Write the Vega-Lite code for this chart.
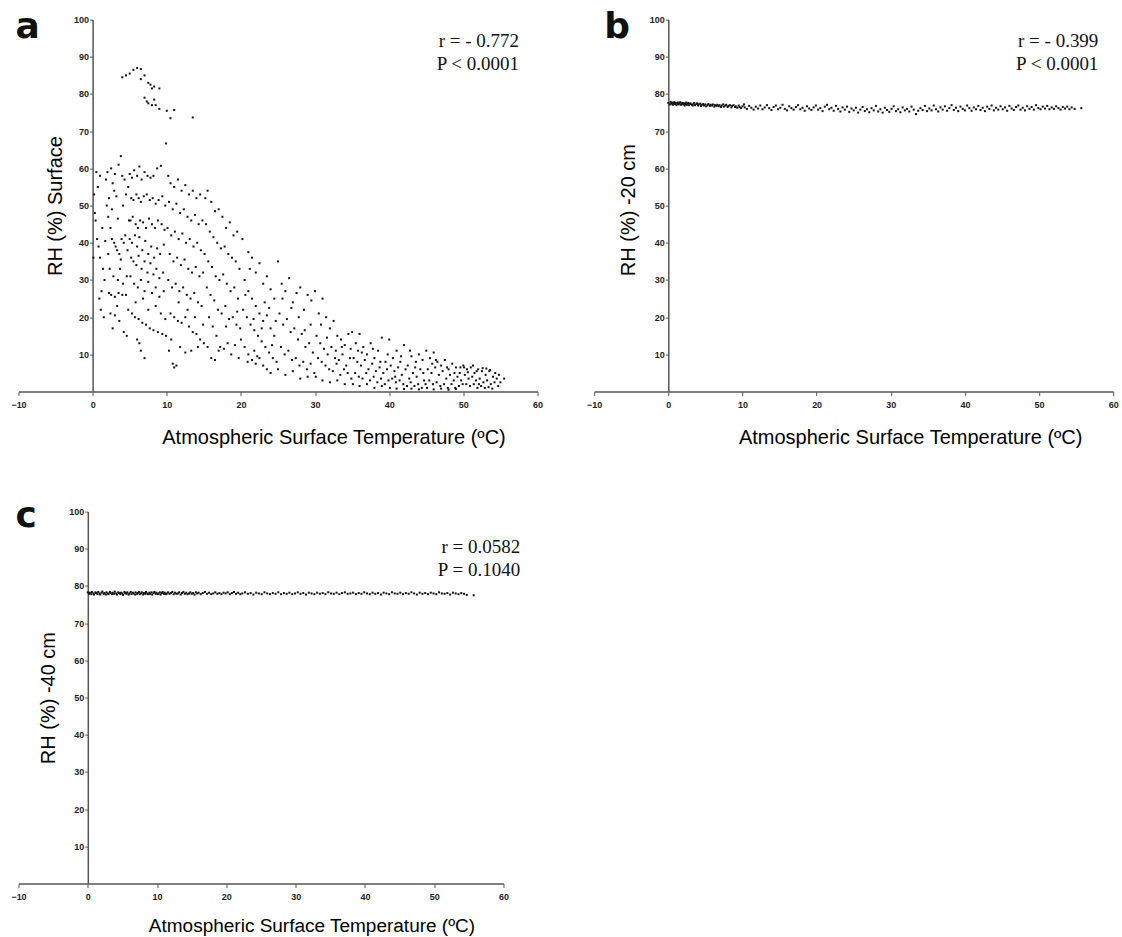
{
"$schema": "https://vega.github.io/schema/vega-lite/v6.json",
"background": "white",
"padding": {"left": 10.5, "top": 8.6, "right": 5, "bottom": 5},
"config": {"view": {"stroke": null}, "axis": {"grid": false}, "font": "Liberation Sans"},
"datasets": {
"a": [
{"x":4.5,"y":85},{"x":5,"y":85.5},{"x":5.5,"y":86.5},{"x":6,"y":87},{"x":6.5,"y":86.7},{"x":7,"y":85},{"x":7.5,"y":83},{"x":7.8,"y":82.5},{"x":8,"y":81.5},{"x":8.3,"y":82},{"x":9,"y":81.5},{"x":7,"y":79},{"x":7.3,"y":78},{"x":7.5,"y":77.5},{"x":8,"y":77},{"x":8.3,"y":78.5},{"x":8.5,"y":77},{"x":9,"y":76},{"x":10,"y":75.5},{"x":11,"y":75.7},{"x":13.5,"y":73.7},{"x":10.5,"y":73.5},{"x":6.5,"y":84},{"x":4,"y":84.5},{"x":9.9,"y":66.7},
{"x":0.2,"y":53},{"x":0.3,"y":48},{"x":0.5,"y":59},{"x":0.6,"y":41},{"x":0.8,"y":39},{"x":1,"y":58},{"x":1,"y":36},{"x":1.2,"y":27},{"x":1.5,"y":20},{"x":1.6,"y":30},{"x":0.4,"y":46},{"x":1.8,"y":57},{"x":1.9,"y":50},{"x":0.9,"y":25},{"x":1.3,"y":44},{"x":1.7,"y":40.5},{"x":0.1,"y":36},{"x":1.1,"y":22},{"x":0.7,"y":55},{"x":1.4,"y":33},
{"x":2,"y":59},{"x":2.2,"y":52},{"x":2.5,"y":60},{"x":2.7,"y":56},{"x":3,"y":58.5},{"x":3.2,"y":52.5},{"x":3.5,"y":61},{"x":3.8,"y":63.3},{"x":4,"y":58},{"x":4.3,"y":57},{"x":4.5,"y":53},{"x":2.1,"y":47},{"x":2.4,"y":44},{"x":2.6,"y":41},{"x":2.9,"y":40},{"x":3.1,"y":39},{"x":3.3,"y":38},{"x":3.6,"y":37},{"x":3.9,"y":41},{"x":4.2,"y":40},{"x":4.4,"y":42},{"x":4.7,"y":38},{"x":2.3,"y":33},{"x":2.8,"y":31},{"x":3.4,"y":30},{"x":3.7,"y":33},{"x":4.1,"y":29},{"x":4.6,"y":31},{"x":2.2,"y":26.5},{"x":2.5,"y":26},{"x":3,"y":25.5},{"x":3.5,"y":26.5},{"x":4,"y":26},{"x":4.5,"y":26},{"x":2.4,"y":21},{"x":3,"y":20.5},{"x":3.6,"y":19},{"x":4.2,"y":16},{"x":4.6,"y":15},{"x":2.7,"y":17},{"x":3.3,"y":23},{"x":4.8,"y":22},{"x":2.1,"y":37},{"x":3.8,"y":35.5},{"x":4.9,"y":46},{"x":2.6,"y":49},{"x":3.4,"y":46.5},{"x":4.1,"y":50},{"x":4.8,"y":55},{"x":2.9,"y":54},
{"x":5,"y":58.5},{"x":5.3,"y":57.5},{"x":5.6,"y":59.5},{"x":6,"y":58},{"x":6.3,"y":60.5},{"x":6.6,"y":57},{"x":7,"y":59},{"x":7.4,"y":58},{"x":7.8,"y":57.5},{"x":8.2,"y":58},{"x":8.7,"y":60},{"x":9.2,"y":60.7},{"x":5.2,"y":52},{"x":5.5,"y":51.5},{"x":5.9,"y":53},{"x":6.2,"y":52},{"x":6.5,"y":51},{"x":6.9,"y":52.5},{"x":7.3,"y":53},{"x":7.7,"y":51.5},{"x":8.1,"y":52},{"x":8.5,"y":50.5},{"x":8.9,"y":51.5},{"x":9.4,"y":52.5},{"x":9.8,"y":50},{"x":5.1,"y":46},{"x":5.4,"y":47},{"x":5.8,"y":45},{"x":6.1,"y":44},{"x":6.4,"y":46},{"x":6.8,"y":45.5},{"x":7.2,"y":44},{"x":7.6,"y":46.5},{"x":8,"y":45},{"x":8.4,"y":44},{"x":8.8,"y":46},{"x":9.3,"y":45},{"x":9.7,"y":43.5},{"x":5,"y":41},{"x":5.3,"y":40},{"x":5.7,"y":42},{"x":6,"y":39},{"x":6.3,"y":41.5},{"x":6.7,"y":38},{"x":7.1,"y":40.5},{"x":7.5,"y":37},{"x":7.9,"y":39},{"x":8.3,"y":36},{"x":8.7,"y":38.5},{"x":9.1,"y":37},{"x":9.6,"y":39.5},{"x":5.2,"y":36},{"x":5.5,"y":35},{"x":5.9,"y":34},{"x":6.2,"y":36.5},{"x":6.6,"y":33},{"x":7,"y":35},{"x":7.4,"y":32},{"x":7.8,"y":34.5},{"x":8.2,"y":31.5},{"x":8.6,"y":33},{"x":9,"y":30.5},{"x":9.5,"y":32},{"x":5.1,"y":31},{"x":5.6,"y":29},{"x":6.1,"y":28},{"x":6.5,"y":30},{"x":7,"y":27},{"x":7.5,"y":29.5},{"x":8,"y":26.5},{"x":8.5,"y":28},{"x":9,"y":25.5},{"x":9.6,"y":27},{"x":5.3,"y":21},{"x":5.7,"y":20},{"x":6.2,"y":19.5},{"x":6.7,"y":18.5},{"x":7.2,"y":18},{"x":7.7,"y":17},{"x":8.2,"y":16.5},{"x":8.8,"y":16},{"x":9.4,"y":15.5},{"x":9.9,"y":15},{"x":6,"y":14},{"x":6.5,"y":11},{"x":7,"y":9},{"x":6.3,"y":13},{"x":7.5,"y":22},{"x":8.5,"y":23},{"x":9.2,"y":21},{"x":5.8,"y":24},{"x":6.8,"y":25},{"x":9.8,"y":19.5},
{"x":10.2,"y":58},{"x":10.5,"y":56},{"x":11,"y":55},{"x":11.5,"y":57},{"x":12,"y":54},{"x":12.5,"y":55.5},{"x":13,"y":53},{"x":13.5,"y":54},{"x":14,"y":52},{"x":14.5,"y":53},{"x":10.3,"y":51},{"x":10.8,"y":49},{"x":11.3,"y":50.5},{"x":11.8,"y":48},{"x":12.3,"y":49},{"x":12.8,"y":47},{"x":13.3,"y":46},{"x":13.8,"y":47.5},{"x":14.3,"y":45},{"x":14.8,"y":46},{"x":10.1,"y":44},{"x":10.6,"y":42},{"x":11.1,"y":43},{"x":11.6,"y":41},{"x":12.1,"y":42.5},{"x":12.6,"y":40},{"x":13.1,"y":41},{"x":13.6,"y":39},{"x":14.1,"y":40},{"x":14.6,"y":38},{"x":10.4,"y":37},{"x":10.9,"y":35},{"x":11.4,"y":36},{"x":11.9,"y":34},{"x":12.4,"y":35.5},{"x":12.9,"y":33},{"x":13.4,"y":32},{"x":13.9,"y":33.5},{"x":14.4,"y":31},{"x":14.9,"y":32},{"x":10.2,"y":30},{"x":10.7,"y":28},{"x":11.2,"y":29},{"x":11.7,"y":27},{"x":12.2,"y":28},{"x":12.7,"y":26},{"x":13.2,"y":25},{"x":13.7,"y":26.5},{"x":14.2,"y":24},{"x":14.7,"y":23},{"x":10.5,"y":21},{"x":11,"y":20},{"x":11.5,"y":19},{"x":12,"y":18.5},{"x":12.5,"y":20},{"x":13,"y":17.5},{"x":13.5,"y":16},{"x":14,"y":15.5},{"x":14.5,"y":14},{"x":15,"y":13},{"x":10.8,"y":7.5},{"x":11,"y":6.5},{"x":11.3,"y":7},{"x":11.8,"y":12},{"x":12.5,"y":10.5},{"x":13.3,"y":11},{"x":14.2,"y":12},{"x":10.3,"y":11},{"x":10.6,"y":14},{"x":12.8,"y":22},{"x":13.8,"y":20},{"x":11.6,"y":24},{"x":14.9,"y":18},
{"x":15.2,"y":52},{"x":15.5,"y":54},{"x":16,"y":51},{"x":16.5,"y":48.5},{"x":17,"y":49},{"x":17.5,"y":47},{"x":18,"y":44},{"x":18.5,"y":45.5},{"x":19,"y":42},{"x":19.5,"y":43},{"x":15.3,"y":45},{"x":15.8,"y":43},{"x":16.3,"y":41.5},{"x":16.8,"y":40},{"x":17.3,"y":38.5},{"x":17.8,"y":39},{"x":18.3,"y":37},{"x":18.8,"y":36},{"x":19.3,"y":35},{"x":19.8,"y":33},{"x":15.1,"y":37},{"x":15.6,"y":35},{"x":16.1,"y":33.5},{"x":16.6,"y":31},{"x":17.1,"y":30},{"x":17.6,"y":31.5},{"x":18.1,"y":29},{"x":18.6,"y":27},{"x":19.1,"y":28},{"x":19.6,"y":25},{"x":15.4,"y":28},{"x":15.9,"y":26},{"x":16.4,"y":24.5},{"x":16.9,"y":22},{"x":17.4,"y":21},{"x":17.9,"y":23},{"x":18.4,"y":19.5},{"x":18.9,"y":20},{"x":19.4,"y":18},{"x":19.9,"y":17},{"x":15.7,"y":20},{"x":16.2,"y":17.5},{"x":16.7,"y":15},{"x":17.2,"y":12},{"x":17.7,"y":11.5},{"x":18.2,"y":13},{"x":18.7,"y":10},{"x":19.2,"y":12.5},{"x":19.7,"y":9},{"x":16,"y":9},{"x":16.5,"y":8.5},{"x":17,"y":11},{"x":18,"y":17.5},{"x":15.5,"y":12},{"x":19.5,"y":21.5},
{"x":20.2,"y":41},{"x":21,"y":37.5},{"x":21.5,"y":36},{"x":22,"y":32},{"x":22.5,"y":34.5},{"x":23,"y":29},{"x":23.5,"y":31},{"x":24,"y":27.5},{"x":24.5,"y":25},{"x":20.5,"y":30},{"x":21,"y":27},{"x":21.5,"y":25},{"x":22,"y":23},{"x":22.5,"y":21},{"x":23,"y":19},{"x":23.5,"y":20.5},{"x":24,"y":17},{"x":24.5,"y":15},{"x":20.3,"y":22},{"x":20.8,"y":20},{"x":21.3,"y":18},{"x":21.8,"y":16.5},{"x":22.3,"y":15},{"x":22.8,"y":13.5},{"x":23.3,"y":12},{"x":23.8,"y":10.5},{"x":24.3,"y":9},{"x":24.8,"y":8},{"x":20,"y":14},{"x":20.5,"y":12},{"x":21,"y":10},{"x":21.5,"y":8.5},{"x":22,"y":7.5},{"x":22.5,"y":9},{"x":23,"y":7},{"x":23.5,"y":6},{"x":24,"y":5},{"x":20.6,"y":26},{"x":21.7,"y":19.5},{"x":22.8,"y":17},{"x":23.8,"y":22.5},{"x":24.7,"y":19},{"x":20.9,"y":8},{"x":21.8,"y":11},{"x":22.2,"y":9.5},{"x":21.2,"y":33},{"x":23.2,"y":24},{"x":24.2,"y":12.5},
{"x":25,"y":35},{"x":25.5,"y":29},{"x":26,"y":27},{"x":26.5,"y":30.5},{"x":27,"y":24},{"x":27.5,"y":26.5},{"x":28,"y":28},{"x":28.5,"y":22},{"x":29,"y":26},{"x":29.5,"y":24.5},{"x":25.2,"y":21},{"x":25.7,"y":18},{"x":26.2,"y":19.5},{"x":26.7,"y":16},{"x":27.2,"y":17},{"x":27.7,"y":14},{"x":28.2,"y":15.5},{"x":28.7,"y":12},{"x":29.2,"y":13},{"x":29.7,"y":10.5},{"x":25.4,"y":12},{"x":25.9,"y":10},{"x":26.4,"y":11},{"x":26.9,"y":8.5},{"x":27.4,"y":9},{"x":27.9,"y":7},{"x":28.4,"y":8},{"x":28.9,"y":6},{"x":29.4,"y":7.5},{"x":29.9,"y":5},{"x":25,"y":6},{"x":26,"y":4.5},{"x":27,"y":5.5},{"x":28,"y":3.5},{"x":29,"y":4},{"x":25.6,"y":25},{"x":27.8,"y":20},{"x":29.4,"y":18},{"x":26.8,"y":22.5},{"x":28.6,"y":16.5},
{"x":30,"y":27},{"x":30.5,"y":21},{"x":31,"y":25},{"x":31.5,"y":20},{"x":32,"y":17},{"x":32.5,"y":19},{"x":33,"y":15},{"x":33.5,"y":14},{"x":34,"y":12.5},{"x":34.5,"y":15.5},{"x":30.2,"y":15},{"x":30.7,"y":13},{"x":31.2,"y":11.5},{"x":31.7,"y":10},{"x":32.2,"y":12},{"x":32.7,"y":9},{"x":33.2,"y":8.5},{"x":33.7,"y":10},{"x":34.2,"y":7},{"x":34.7,"y":9},{"x":30.4,"y":9},{"x":30.9,"y":8},{"x":31.4,"y":7},{"x":31.9,"y":6},{"x":32.4,"y":5.5},{"x":32.9,"y":7.5},{"x":33.4,"y":4.5},{"x":33.9,"y":6},{"x":34.4,"y":5},{"x":34.9,"y":3.5},{"x":30.1,"y":4},{"x":31,"y":3},{"x":32,"y":2.5},{"x":33,"y":3},{"x":34,"y":2},{"x":31.6,"y":14.5},{"x":33.6,"y":12},{"x":30.8,"y":18},{"x":32.8,"y":11},{"x":34.8,"y":11.5},
{"x":35,"y":16},{"x":35.5,"y":13},{"x":36,"y":15.5},{"x":36.5,"y":12},{"x":37,"y":10},{"x":37.5,"y":13},{"x":38,"y":9},{"x":38.5,"y":11},{"x":39,"y":14.5},{"x":39.5,"y":8},{"x":35.2,"y":9},{"x":35.7,"y":8},{"x":36.2,"y":7},{"x":36.7,"y":8.5},{"x":37.2,"y":6},{"x":37.7,"y":7.5},{"x":38.2,"y":5.5},{"x":38.7,"y":6.5},{"x":39.2,"y":5},{"x":39.7,"y":6},{"x":35.4,"y":5},{"x":35.9,"y":4},{"x":36.4,"y":3.5},{"x":36.9,"y":5},{"x":37.4,"y":3},{"x":37.9,"y":4},{"x":38.4,"y":2.5},{"x":38.9,"y":3.5},{"x":39.4,"y":2},{"x":39.9,"y":3},{"x":35.1,"y":2},{"x":36,"y":1.5},{"x":37,"y":2},{"x":38,"y":1},{"x":39,"y":1.5},{"x":36.3,"y":10.5},{"x":37.8,"y":11.5},{"x":38.8,"y":8},{"x":35.8,"y":11},{"x":39.8,"y":10},
{"x":40,"y":14},{"x":40.5,"y":9},{"x":41,"y":11},{"x":41.5,"y":8},{"x":42,"y":12.5},{"x":42.5,"y":7},{"x":43,"y":9.5},{"x":43.5,"y":6.5},{"x":44,"y":10},{"x":44.5,"y":8.5},{"x":40.2,"y":7},{"x":40.7,"y":5.5},{"x":41.2,"y":6.5},{"x":41.7,"y":4.5},{"x":42.2,"y":6},{"x":42.7,"y":3.5},{"x":43.2,"y":5},{"x":43.7,"y":4},{"x":44.2,"y":6},{"x":44.7,"y":3},{"x":40.4,"y":3.5},{"x":40.9,"y":2.5},{"x":41.4,"y":3},{"x":41.9,"y":2},{"x":42.4,"y":1.5},{"x":42.9,"y":2.5},{"x":43.4,"y":1.5},{"x":43.9,"y":2},{"x":44.4,"y":1},{"x":44.9,"y":2},{"x":40.1,"y":1},{"x":41,"y":0.8},{"x":42,"y":0.7},{"x":43,"y":0.8},{"x":44,"y":0.6},{"x":41.6,"y":9.5},{"x":43.6,"y":8},{"x":42.8,"y":11},{"x":40.8,"y":4},{"x":44.6,"y":5},
{"x":45,"y":11},{"x":45.5,"y":9},{"x":46,"y":10.5},{"x":46.5,"y":8},{"x":47,"y":7},{"x":47.5,"y":8.5},{"x":48,"y":6},{"x":48.5,"y":7.5},{"x":49,"y":6.5},{"x":49.5,"y":5},{"x":45.2,"y":6},{"x":45.7,"y":5},{"x":46.2,"y":6.5},{"x":46.7,"y":4.5},{"x":47.2,"y":5.5},{"x":47.7,"y":3.5},{"x":48.2,"y":4.5},{"x":48.7,"y":3},{"x":49.2,"y":4},{"x":49.7,"y":3},{"x":45.4,"y":3},{"x":45.9,"y":2},{"x":46.4,"y":2.5},{"x":46.9,"y":1.5},{"x":47.4,"y":2},{"x":47.9,"y":1},{"x":48.4,"y":2},{"x":48.9,"y":1},{"x":49.4,"y":1.5},{"x":49.9,"y":2},{"x":45.1,"y":1},{"x":46,"y":0.6},{"x":47,"y":0.8},{"x":48,"y":0.5},{"x":49,"y":0.7},{"x":46.3,"y":8.5},{"x":47.8,"y":6.5},{"x":48.8,"y":5},{"x":45.8,"y":7.5},{"x":49.6,"y":6.5},
{"x":50,"y":7},{"x":50.5,"y":6},{"x":51,"y":6.5},{"x":51.5,"y":5},{"x":52,"y":6},{"x":52.5,"y":5.5},{"x":53,"y":4.5},{"x":53.5,"y":5.5},{"x":54,"y":4},{"x":54.5,"y":3.5},{"x":50.2,"y":4.5},{"x":50.7,"y":3.5},{"x":51.2,"y":4},{"x":51.7,"y":3},{"x":52.2,"y":3.5},{"x":52.7,"y":2.5},{"x":53.2,"y":3},{"x":53.7,"y":2},{"x":54.2,"y":2.5},{"x":54.7,"y":1.5},{"x":50.4,"y":2},{"x":50.9,"y":1.5},{"x":51.4,"y":2},{"x":51.9,"y":1},{"x":52.4,"y":1.5},{"x":52.9,"y":1},{"x":53.4,"y":1.2},{"x":53.9,"y":0.8},{"x":50.1,"y":6.5},{"x":51.3,"y":7},{"x":52.6,"y":6.3},{"x":53.6,"y":5.8},{"x":54.3,"y":5},{"x":55.5,"y":3.5},{"x":54.8,"y":4.5},{"x":50.6,"y":5.2},{"x":51.8,"y":5.5},{"x":53.1,"y":6.2},{"x":52.1,"y":2},{"x":55,"y":2.5}
],
"b": [
{"x":0,"y":77.6},{"x":0.2,"y":77.2},{"x":0.3,"y":77.9},{"x":0.4,"y":77.4},{"x":0.5,"y":77.7},{"x":0.6,"y":77.1},{"x":0.7,"y":77.5},{"x":0.8,"y":77.8},{"x":0.9,"y":77.3},{"x":1.0,"y":77.6},{"x":1.1,"y":77.0},{"x":1.2,"y":77.4},{"x":1.3,"y":77.7},{"x":1.4,"y":77.2},{"x":1.5,"y":77.5},{"x":1.6,"y":77.8},{"x":1.7,"y":77.1},{"x":1.8,"y":77.4},{"x":1.9,"y":77.6},{"x":2.0,"y":77.2},{"x":2.1,"y":77.5},{"x":2.2,"y":76.9},{"x":2.3,"y":77.3},{"x":2.4,"y":77.7},{"x":2.5,"y":77.1},{"x":2.6,"y":77.4},{"x":2.7,"y":77.6},{"x":2.8,"y":77.0},{"x":2.9,"y":77.3},{"x":3.0,"y":77.5},{"x":3.2,"y":77.1},{"x":3.3,"y":76.9},{"x":3.4,"y":77.4},{"x":3.5,"y":77.6},{"x":3.6,"y":77.0},{"x":3.8,"y":77.3},{"x":3.9,"y":77.5},{"x":4.0,"y":76.9},{"x":4.1,"y":77.2},{"x":4.3,"y":77.4},{"x":4.4,"y":76.8},{"x":4.5,"y":77.1},{"x":4.7,"y":77.3},{"x":4.8,"y":76.9},{"x":5.0,"y":77.2},{"x":5.1,"y":76.7},{"x":5.3,"y":77.0},{"x":5.4,"y":77.3},{"x":5.6,"y":76.8},{"x":5.7,"y":77.1},{"x":5.9,"y":76.9},{"x":6.0,"y":77.2},{"x":6.2,"y":76.6},{"x":6.3,"y":77.0},{"x":6.5,"y":76.8},{"x":6.6,"y":77.1},{"x":6.8,"y":76.7},{"x":6.9,"y":77.0},{"x":7.1,"y":76.5},{"x":7.2,"y":76.9},{"x":7.4,"y":77.2},{"x":7.5,"y":76.6},{"x":7.7,"y":76.9},{"x":7.8,"y":77.1},{"x":8.0,"y":76.5},{"x":8.1,"y":76.8},{"x":8.3,"y":77.0},{"x":8.5,"y":76.4},{"x":8.6,"y":76.8},{"x":8.8,"y":77.0},{"x":9.0,"y":76.5},{"x":9.1,"y":76.7},{"x":9.3,"y":76.3},{"x":9.5,"y":76.9},{"x":9.6,"y":76.5},{"x":9.8,"y":76.2},{"x":10.0,"y":76.7},{"x":10.2,"y":77.2},{"x":10.3,"y":76.4},
{"x":10.6,"y":76.0},{"x":10.9,"y":76.8},{"x":11.2,"y":76.3},{"x":11.5,"y":75.8},{"x":11.8,"y":76.6},{"x":12.1,"y":76.1},{"x":12.4,"y":76.9},{"x":12.7,"y":75.9},{"x":13.0,"y":76.4},{"x":13.3,"y":77.0},{"x":13.6,"y":76.2},{"x":13.9,"y":75.7},{"x":14.2,"y":76.5},{"x":14.5,"y":76.9},{"x":14.8,"y":75.9},{"x":15.1,"y":76.3},{"x":15.4,"y":77.1},{"x":15.7,"y":76.0},{"x":16.0,"y":75.6},{"x":16.3,"y":76.7},{"x":16.6,"y":76.2},{"x":16.9,"y":75.8},{"x":17.2,"y":76.5},{"x":17.5,"y":77.0},{"x":17.8,"y":75.9},{"x":18.1,"y":76.3},{"x":18.4,"y":75.5},{"x":18.7,"y":76.7},{"x":19.0,"y":76.1},{"x":19.3,"y":75.7},{"x":19.6,"y":76.4},{"x":19.9,"y":76.9},{"x":20.2,"y":75.8},{"x":20.5,"y":76.2},{"x":20.8,"y":75.4},{"x":21.1,"y":76.6},{"x":21.4,"y":77.1},{"x":21.7,"y":75.9},{"x":22.0,"y":76.3},{"x":22.3,"y":75.5},{"x":22.6,"y":76.8},{"x":22.9,"y":76.0},{"x":23.2,"y":75.3},{"x":23.5,"y":76.4},{"x":23.8,"y":75.8},{"x":24.1,"y":76.6},{"x":24.4,"y":75.2},{"x":24.7,"y":76.1},{"x":25.0,"y":75.6},{"x":25.3,"y":76.3},{"x":25.6,"y":75.0},{"x":25.9,"y":75.8},{"x":26.2,"y":76.5},{"x":26.5,"y":75.4},{"x":26.8,"y":75.9},{"x":27.1,"y":75.1},{"x":27.4,"y":76.2},{"x":27.7,"y":75.6},{"x":28.0,"y":76.8},{"x":28.3,"y":75.3},{"x":28.6,"y":75.9},{"x":28.9,"y":75.0},{"x":29.2,"y":76.3},{"x":29.5,"y":75.7},{"x":29.8,"y":75.2},{"x":30.1,"y":76.0},{"x":30.4,"y":76.7},{"x":30.7,"y":75.4},{"x":31.0,"y":75.9},{"x":31.3,"y":75.1},{"x":31.6,"y":76.4},{"x":31.9,"y":75.6},{"x":32.2,"y":76.0},{"x":32.5,"y":75.3},{"x":32.8,"y":76.6},{"x":33.1,"y":75.8},{"x":33.4,"y":74.6},{"x":33.7,"y":75.5},{"x":34.0,"y":76.2},{"x":34.3,"y":75.7},{"x":34.6,"y":76.8},{"x":34.9,"y":75.4},{"x":35.2,"y":76.1},{"x":35.5,"y":75.6},{"x":35.8,"y":76.9},{"x":36.1,"y":75.9},{"x":36.4,"y":75.3},{"x":36.7,"y":76.4},{"x":37.0,"y":75.8},{"x":37.3,"y":76.7},{"x":37.6,"y":75.5},{"x":37.9,"y":76.2},{"x":38.2,"y":77.0},{"x":38.5,"y":75.7},{"x":38.8,"y":76.3},{"x":39.1,"y":75.4},{"x":39.4,"y":76.6},{"x":39.7,"y":76.0},{"x":40.0,"y":75.6},{"x":40.3,"y":76.9},{"x":40.6,"y":76.2},{"x":40.9,"y":75.5},{"x":41.2,"y":76.4},{"x":41.5,"y":75.9},{"x":41.8,"y":76.8},{"x":42.1,"y":75.7},{"x":42.4,"y":76.3},{"x":42.7,"y":75.4},{"x":43.0,"y":76.6},{"x":43.3,"y":76.0},{"x":43.6,"y":76.9},{"x":43.9,"y":75.6},{"x":44.2,"y":76.3},{"x":44.5,"y":75.8},{"x":44.8,"y":76.7},{"x":45.1,"y":75.9},{"x":45.4,"y":76.4},{"x":45.7,"y":75.5},{"x":46.0,"y":76.8},{"x":46.3,"y":76.1},{"x":46.6,"y":75.7},{"x":46.9,"y":76.5},{"x":47.2,"y":76.9},{"x":47.5,"y":75.8},{"x":47.8,"y":76.3},{"x":48.1,"y":75.6},{"x":48.4,"y":76.7},{"x":48.7,"y":76.0},{"x":49.0,"y":76.5},{"x":49.3,"y":75.8},{"x":49.6,"y":77.0},{"x":49.9,"y":76.2},{"x":50.2,"y":75.9},{"x":50.5,"y":76.6},{"x":50.8,"y":76.1},{"x":51.1,"y":76.8},{"x":51.4,"y":75.9},{"x":51.7,"y":76.4},{"x":52.0,"y":76.0},{"x":52.3,"y":76.7},{"x":52.6,"y":76.2},{"x":52.9,"y":75.8},{"x":53.2,"y":76.5},{"x":53.5,"y":76.1},{"x":53.8,"y":76.6},{"x":54.1,"y":75.9},{"x":54.4,"y":76.4},{"x":54.8,"y":76.0},{"x":55.7,"y":76.2}
],
"c": [
{"x":0.0,"y":78.3},{"x":0.2,"y":77.9},{"x":0.3,"y":78.2},{"x":0.5,"y":77.8},{"x":0.6,"y":78.4},{"x":0.8,"y":78.0},{"x":0.9,"y":77.7},{"x":1.1,"y":78.3},{"x":1.2,"y":78.1},{"x":1.4,"y":77.8},{"x":1.5,"y":78.4},{"x":1.7,"y":78.0},{"x":1.8,"y":77.7},{"x":2.0,"y":78.2},{"x":2.1,"y":78.5},{"x":2.3,"y":77.9},{"x":2.4,"y":78.1},{"x":2.6,"y":77.7},{"x":2.7,"y":78.3},{"x":2.9,"y":78.0},{"x":3.0,"y":77.8},{"x":3.2,"y":78.4},{"x":3.3,"y":78.1},{"x":3.5,"y":77.8},{"x":3.6,"y":78.2},{"x":3.8,"y":77.9},{"x":3.9,"y":78.5},{"x":4.1,"y":78.0},{"x":4.2,"y":77.7},{"x":4.4,"y":78.3},{"x":4.5,"y":78.1},{"x":4.7,"y":77.8},{"x":4.8,"y":78.2},{"x":5.0,"y":78.0},{"x":5.1,"y":77.6},{"x":5.3,"y":78.4},{"x":5.4,"y":78.1},{"x":5.6,"y":77.9},{"x":5.7,"y":78.3},{"x":5.9,"y":77.7},{"x":6.0,"y":78.0},{"x":6.2,"y":78.4},{"x":6.3,"y":77.8},{"x":6.5,"y":78.2},{"x":6.6,"y":78.0},{"x":6.8,"y":77.7},{"x":6.9,"y":78.3},{"x":7.1,"y":77.9},{"x":7.2,"y":78.1},{"x":7.4,"y":78.4},{"x":7.5,"y":77.8},{"x":7.7,"y":78.0},{"x":7.8,"y":78.3},{"x":8.0,"y":77.7},{"x":8.1,"y":78.1},{"x":8.3,"y":77.9},{"x":8.4,"y":78.4},{"x":8.6,"y":78.0},{"x":8.7,"y":77.8},{"x":8.9,"y":78.2},{"x":9.0,"y":77.9},{"x":9.2,"y":78.3},{"x":9.3,"y":77.7},{"x":9.5,"y":78.1},{"x":9.6,"y":78.4},{"x":9.8,"y":77.9},{"x":9.9,"y":78.2},{"x":10.1,"y":77.8},{"x":10.2,"y":78.0},{"x":10.4,"y":78.3},{"x":10.5,"y":77.7},{"x":10.7,"y":78.1},{"x":10.8,"y":78.4},{"x":11.0,"y":77.9},{"x":11.1,"y":78.2},{"x":11.3,"y":77.8},{"x":11.4,"y":78.0},{"x":11.6,"y":78.3},{"x":11.8,"y":77.9},{"x":12.0,"y":78.1},{"x":12.2,"y":78.4},{"x":12.4,"y":77.8},{"x":12.6,"y":78.2},{"x":12.8,"y":77.9},{"x":13.0,"y":78.0},{"x":13.2,"y":78.3},{"x":13.4,"y":77.7},{"x":13.6,"y":78.1},{"x":13.8,"y":78.4},{"x":14.0,"y":77.9},{"x":14.2,"y":78.2},{"x":14.4,"y":77.8},{"x":14.6,"y":78.0},{"x":14.8,"y":78.3},{"x":15.0,"y":77.9},{"x":15.2,"y":78.1},{"x":15.4,"y":77.7},{"x":15.6,"y":78.3},{"x":15.8,"y":78.0},{"x":16.0,"y":78.2},{"x":16.3,"y":77.8},{"x":16.6,"y":78.1},{"x":16.9,"y":78.4},{"x":17.2,"y":77.9},{"x":17.5,"y":78.2},{"x":17.8,"y":77.8},{"x":18.1,"y":78.0},{"x":18.4,"y":78.3},{"x":18.7,"y":77.9},{"x":19.0,"y":78.1},{"x":19.3,"y":77.8},{"x":19.6,"y":78.2},{"x":19.9,"y":78.0},{"x":20.2,"y":78.3},{"x":20.5,"y":77.8},{"x":20.8,"y":78.1},{"x":21.1,"y":78.4},{"x":21.4,"y":77.9},{"x":21.7,"y":78.2},{"x":22.0,"y":77.8},{"x":22.3,"y":78.0},{"x":22.7,"y":78.3},{"x":23.1,"y":77.9},{"x":23.5,"y":78.1},{"x":23.9,"y":77.7},{"x":24.3,"y":78.2},{"x":24.7,"y":78.0},{"x":25.1,"y":77.8},{"x":25.5,"y":78.3},{"x":25.9,"y":78.0},{"x":26.3,"y":77.8},{"x":26.7,"y":78.1},{"x":27.1,"y":77.9},{"x":27.5,"y":78.3},{"x":27.9,"y":77.8},{"x":28.3,"y":78.1},{"x":28.7,"y":77.9},{"x":29.1,"y":78.2},{"x":29.5,"y":77.8},{"x":29.9,"y":78.0},{"x":30.3,"y":78.3},{"x":30.7,"y":77.9},{"x":31.1,"y":78.1},{"x":31.5,"y":77.7},{"x":31.9,"y":78.2},{"x":32.3,"y":78.0},{"x":32.7,"y":77.8},{"x":33.1,"y":78.2},{"x":33.5,"y":77.9},{"x":33.9,"y":78.1},{"x":34.3,"y":77.8},{"x":34.7,"y":78.3},{"x":35.1,"y":78.0},{"x":35.5,"y":77.9},{"x":35.9,"y":78.2},{"x":36.3,"y":77.8},{"x":36.7,"y":78.1},{"x":37.1,"y":78.3},{"x":37.5,"y":77.9},{"x":37.9,"y":78.0},{"x":38.3,"y":78.2},{"x":38.7,"y":77.8},{"x":39.1,"y":78.1},{"x":39.5,"y":77.9},{"x":39.9,"y":78.3},{"x":40.3,"y":78.0},{"x":40.7,"y":77.8},{"x":41.1,"y":78.2},{"x":41.5,"y":77.9},{"x":41.9,"y":78.1},{"x":42.3,"y":77.7},{"x":42.7,"y":78.2},{"x":43.1,"y":78.0},{"x":43.5,"y":77.8},{"x":43.9,"y":78.3},{"x":44.3,"y":78.0},{"x":44.7,"y":77.9},{"x":45.1,"y":78.2},{"x":45.5,"y":77.8},{"x":45.9,"y":78.1},{"x":46.3,"y":77.9},{"x":46.7,"y":78.3},{"x":47.1,"y":78.0},{"x":47.5,"y":77.7},{"x":47.9,"y":78.2},{"x":48.3,"y":77.9},{"x":48.7,"y":78.1},{"x":49.1,"y":77.8},{"x":49.5,"y":78.2},{"x":49.9,"y":78.0},{"x":50.3,"y":77.8},{"x":50.7,"y":78.3},{"x":51.1,"y":78.0},{"x":51.5,"y":77.9},{"x":51.9,"y":78.1},{"x":52.3,"y":77.7},{"x":52.7,"y":78.2},{"x":53.1,"y":78.0},{"x":53.5,"y":77.8},{"x":53.9,"y":78.1},{"x":54.3,"y":77.9},{"x":54.7,"y":77.6},{"x":55.7,"y":77.5}
]
},
"columns": 2,
"spacing": {"row": 120, "column": 56.7},
"bounds": "flush",
"align": "all",
"concat": [
{
"width": 519, "height": 372,
"layer": [
{"data": {"name": "a"},
 "mark": {"type": "square", "size": 4, "color": "#111", "opacity": 1},
 "encoding": {
  "x": {"field": "x", "type": "quantitative", "scale": {"domain": [-10, 60], "nice": false, "zero": false},
   "axis": {"values": [-10, 0, 10, 20, 30, 40, 50, 60], "format": "d", "labelFlush": false, "labelOverlap": false, "labelFont": "Liberation Sans", "labelFontWeight": "bold", "labelFontSize": 9, "labelColor": "#222", "labelPadding": 5, "tickSize": 4, "tickColor": "#555", "domainColor": "#555", "domainWidth": 1.5,
    "title": "Atmospheric Surface Temperature (ºC)", "titleFont": "Liberation Sans", "titleFontSize": 20, "titleFontWeight": "normal", "titleColor": "#000", "titleX": 315, "titleY": 52, "titleAlign": "center", "titleBaseline": "alphabetic"}},
  "y": {"field": "y", "type": "quantitative", "scale": {"domain": [0, 100], "nice": false, "zero": false},
   "axis": {"values": [10, 20, 30, 40, 50, 60, 70, 80, 90, 100], "offset": -74.1, "labelFont": "Liberation Sans", "labelFontWeight": "bold", "labelFontSize": 9, "labelColor": "#222", "labelPadding": 1, "tickSize": 3, "tickColor": "#555", "domainColor": "#555", "domainWidth": 1.5,
    "title": "RH (%) Surface", "titleFont": "Liberation Sans", "titleFontSize": 20, "titleFontWeight": "normal", "titleColor": "#000", "titleX": -37, "titleY": 186, "titleAngle": -90, "titleAlign": "center", "titleBaseline": "middle"}}
 }},
{"data": {"values": [{}]},
 "mark": {"type": "text", "text": ["r = - 0.772", "P < 0.0001"], "font": "Liberation Serif", "fontSize": 19, "align": "right", "baseline": "alphabetic", "lineHeight": 23, "color": "#111"},
 "encoding": {"x": {"datum": 57.5, "type": "quantitative"}, "y": {"datum": 92.5, "type": "quantitative"}}},
{"data": {"values": [{}]},
 "mark": {"type": "text", "text": "a", "font": "DejaVu Sans", "fontWeight": "bold", "fontSize": 36, "align": "left", "baseline": "alphabetic", "dx": -3, "dy": 18, "color": "#111"},
 "encoding": {"x": {"datum": -10, "type": "quantitative"}, "y": {"datum": 100, "type": "quantitative"}}}
]
},
{
"width": 519, "height": 372,
"layer": [
{"data": {"name": "b"},
 "mark": {"type": "square", "size": 4, "color": "#111", "opacity": 1},
 "encoding": {
  "x": {"field": "x", "type": "quantitative", "scale": {"domain": [-10, 60], "nice": false, "zero": false},
   "axis": {"values": [-10, 0, 10, 20, 30, 40, 50, 60], "format": "d", "labelFlush": false, "labelOverlap": false, "labelFont": "Liberation Sans", "labelFontWeight": "bold", "labelFontSize": 9, "labelColor": "#222", "labelPadding": 5, "tickSize": 4, "tickColor": "#555", "domainColor": "#555", "domainWidth": 1.5,
    "title": "Atmospheric Surface Temperature (ºC)", "titleFont": "Liberation Sans", "titleFontSize": 20, "titleFontWeight": "normal", "titleColor": "#000", "titleX": 316, "titleY": 52, "titleAlign": "center", "titleBaseline": "alphabetic"}},
  "y": {"field": "y", "type": "quantitative", "scale": {"domain": [0, 100], "nice": false, "zero": false},
   "axis": {"values": [10, 20, 30, 40, 50, 60, 70, 80, 90, 100], "offset": -74.1, "labelFont": "Liberation Sans", "labelFontWeight": "bold", "labelFontSize": 9, "labelColor": "#222", "labelPadding": 1, "tickSize": 3, "tickColor": "#555", "domainColor": "#555", "domainWidth": 1.5,
    "title": "RH (%) -20 cm", "titleFont": "Liberation Sans", "titleFontSize": 20, "titleFontWeight": "normal", "titleColor": "#000", "titleX": -40, "titleY": 190, "titleAngle": -90, "titleAlign": "center", "titleBaseline": "middle"}}
 }},
{"data": {"values": [{}]},
 "mark": {"type": "text", "text": ["r = - 0.399", "P < 0.0001"], "font": "Liberation Serif", "fontSize": 19, "align": "right", "baseline": "alphabetic", "lineHeight": 23, "color": "#111"},
 "encoding": {"x": {"datum": 58.0, "type": "quantitative"}, "y": {"datum": 92.5, "type": "quantitative"}}},
{"data": {"values": [{}]},
 "mark": {"type": "text", "text": "b", "font": "DejaVu Sans", "fontWeight": "bold", "fontSize": 36, "align": "left", "baseline": "alphabetic", "dx": 10, "dy": 18, "color": "#111"},
 "encoding": {"x": {"datum": -10, "type": "quantitative"}, "y": {"datum": 100, "type": "quantitative"}}}
]
},
{
"width": 485, "height": 372,
"layer": [
{"data": {"name": "c"},
 "mark": {"type": "square", "size": 4, "color": "#111", "opacity": 1},
 "encoding": {
  "x": {"field": "x", "type": "quantitative", "scale": {"domain": [-10, 60], "nice": false, "zero": false},
   "axis": {"values": [-10, 0, 10, 20, 30, 40, 50, 60], "format": "d", "labelFlush": false, "labelOverlap": false, "labelFont": "Liberation Sans", "labelFontWeight": "bold", "labelFontSize": 9, "labelColor": "#222", "labelPadding": 5, "tickSize": 4, "tickColor": "#555", "domainColor": "#555", "domainWidth": 1.5,
    "title": "Atmospheric Surface Temperature (ºC)", "titleFont": "Liberation Sans", "titleFontSize": 19, "titleFontWeight": "normal", "titleColor": "#000", "titleX": 293, "titleY": 48, "titleAlign": "center", "titleBaseline": "alphabetic"}},
  "y": {"field": "y", "type": "quantitative", "scale": {"domain": [0, 100], "nice": false, "zero": false},
   "axis": {"values": [10, 20, 30, 40, 50, 60, 70, 80, 90, 100], "offset": -69.3, "labelFont": "Liberation Sans", "labelFontWeight": "bold", "labelFontSize": 9, "labelColor": "#222", "labelPadding": 1, "tickSize": 3, "tickColor": "#555", "domainColor": "#555", "domainWidth": 1.5,
    "title": "RH (%) -40 cm", "titleFont": "Liberation Sans", "titleFontSize": 20, "titleFontWeight": "normal", "titleColor": "#000", "titleX": -39, "titleY": 186, "titleAngle": -90, "titleAlign": "center", "titleBaseline": "middle"}}
 }},
{"data": {"values": [{}]},
 "mark": {"type": "text", "text": ["r = 0.0582", "P = 0.1040"], "font": "Liberation Serif", "fontSize": 19, "align": "right", "baseline": "alphabetic", "lineHeight": 23, "color": "#111"},
 "encoding": {"x": {"datum": 62.4, "type": "quantitative"}, "y": {"datum": 89.0, "type": "quantitative"}}},
{"data": {"values": [{}]},
 "mark": {"type": "text", "text": "c", "font": "DejaVu Sans", "fontWeight": "bold", "fontSize": 36, "align": "left", "baseline": "alphabetic", "dx": -3, "dy": 15, "color": "#111"},
 "encoding": {"x": {"datum": -10, "type": "quantitative"}, "y": {"datum": 100, "type": "quantitative"}}}
]
}
]
}
